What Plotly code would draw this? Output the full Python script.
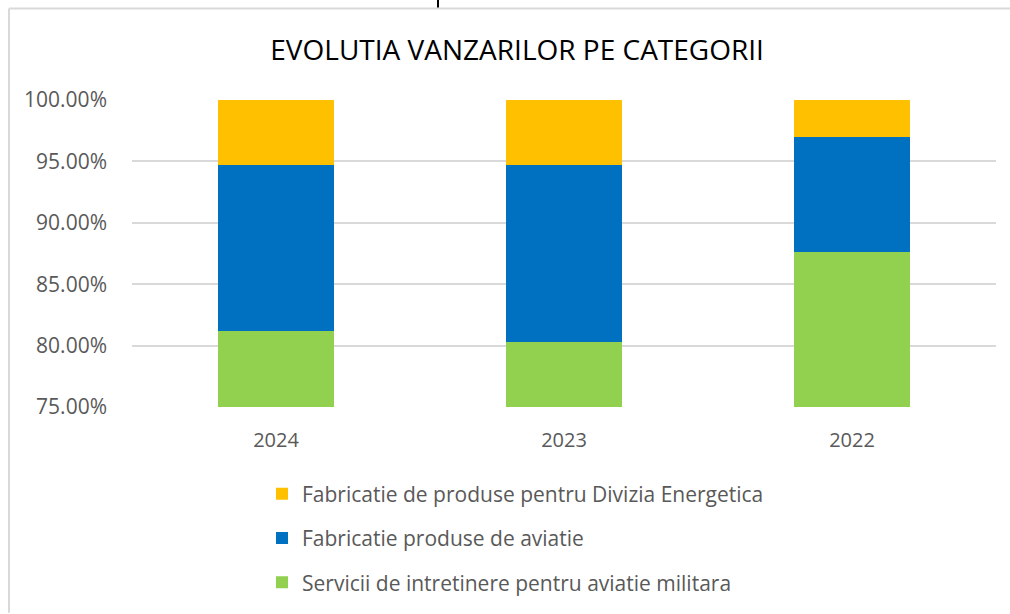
import plotly.graph_objects as go

years = ["2024", "2023", "2022"]
servicii = [0.812, 0.803, 0.876]
aviatie = [0.135, 0.144, 0.094]
energetica = [0.053, 0.053, 0.030]

series_names = [
    "Servicii de intretinere pentru aviatie militara",
    "Fabricatie produse de aviatie",
    "Fabricatie de produse pentru Divizia Energetica",
]
series_colors = ["#92D050", "#0070C0", "#FFC000"]
legend_ranks = [3, 2, 1]

fig = go.Figure()
for name, vals, col, rank in zip(series_names, [servicii, aviatie, energetica], series_colors, legend_ranks):
    fig.add_trace(go.Bar(
        x=years, y=vals, name=name, legendgroup="g%d" % rank, legendrank=rank,
        marker=dict(color=col, line=dict(width=0)),
    ))

# plot area in pixels: x 132..996, y 100..409
L, R, T, B = 132, 996, 100, 409
W, H = R - L, B - T
def px(x):
    return (x - L) / W
def py(y):
    return (B - y) / H

grey = "#D9D9D9"
fig.add_shape(type="line", xref="paper", yref="paper",
              x0=px(9), x1=px(1012), y0=py(8), y1=py(8), line=dict(color=grey, width=2))
fig.add_shape(type="line", xref="paper", yref="paper",
              x0=px(9), x1=px(9), y0=py(8), y1=py(616), line=dict(color=grey, width=2))
fig.add_shape(type="line", xref="paper", yref="paper",
              x0=px(438), x1=px(438), y0=py(-2), y1=py(7), line=dict(color="black", width=2))

fig.update_layout(
    width=1010, height=614,
    barmode="stack", bargap=0.6,
    paper_bgcolor="white", plot_bgcolor="white",
    margin=dict(l=L, r=1010 - R, t=T, b=614 - B, pad=0),
    font=dict(family="Open Sans, Noto Sans, sans-serif", color="#595959", size=21),
    title=dict(text="EVOLUTIA VANZARILOR PE CATEGORII", x=0.512, xanchor="center",
               y=1 - 50 / 614, yanchor="middle",
               font=dict(family="Open Sans, sans-serif", size=28, color="#000000")),
    xaxis=dict(showgrid=False, ticks="", showline=False, ticklabelstandoff=19,
               tickfont=dict(size=20, color="#595959")),
    yaxis=dict(range=[0.75, 1.0], dtick=0.05, tickformat=".2%", showgrid=True,
               gridcolor=grey, gridwidth=2, zeroline=False, showline=False, ticks="",
               ticklabelstandoff=24, tickfont=dict(size=21, color="#595959")),
    legend=dict(orientation="v", traceorder="grouped", x=px(262), xanchor="left",
                y=py(476), yanchor="top", tracegroupgap=14, itemclick=False,
                font=dict(size=21, color="#595959")),
    showlegend=True,
)

fig.write_html("out.html", config={"displayModeBar": False},
               post_script="document.body.style.margin='0';")
